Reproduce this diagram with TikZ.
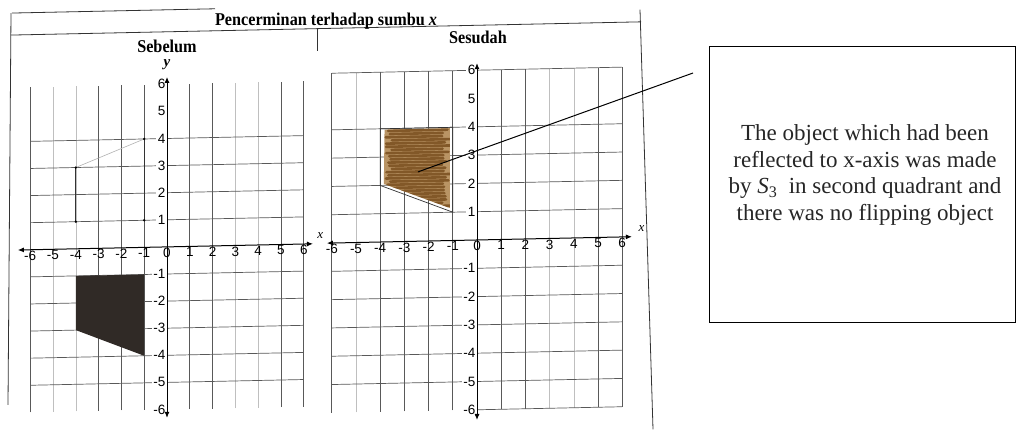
\documentclass[tikz,border=0pt]{standalone}
\usepackage{fontspec}
\usepackage{graphicx}
\setmainfont{Liberation Serif}
\newfontfamily\sansf{Liberation Sans}
\usetikzlibrary{arrows.meta}
\definecolor{shapedark}{RGB}{48,42,38}
\definecolor{scribble}{RGB}{130,88,40}
\definecolor{scribblelight}{RGB}{185,148,100}
\tikzset{
  gridline/.style={draw=black!65, line width=0.7pt},
  faintline/.style={draw=black!25, line width=0.5pt},
  axisline/.style={draw=black, line width=1pt, {Latex[length=6pt,width=5pt]}-{Latex[length=6pt,width=5pt]}},
  xlab/.style={font=\sansf\fontsize{13.5}{14}\selectfont, anchor=north, inner sep=1pt},
  ylab/.style={font=\sansf\fontsize{13.5}{14}\selectfont, anchor=east, fill=white, inner sep=1.5pt},
  header/.style={font=\bfseries\fontsize{18}{20}\selectfont, inner sep=0pt},
  frameline/.style={draw=black!80, line width=0.8pt},
  traceline/.style={draw=black!80, line width=0.7pt},
  connector/.style={draw=black, line width=1pt},
}
\begin{document}
\begin{tikzpicture}[x=1pt,y=-1pt]
\useasboundingbox (0,0) rectangle (1017,430);
\fill[white] (0,0) rectangle (1017,430);
\begin{scope}[yslant=0.021]
  % worksheet frame
  \draw[frameline] (12,13.3) -- (215,13.3);
  \draw[frameline] (11,13.3) -- (8,405);
  \draw[frameline] (11,35.3) -- (641,35.3);
  \draw[frameline] (640,23) -- (653,443);
  \draw[frameline] (317,35.3) -- (317,58);
  \node[header, anchor=base] (title) at (326,32) {\scalebox{0.9}[1]{Pencerminan terhadap sumbu \textit{x}}};
  \node[header] (before) at (167,50) {\scalebox{0.9}[1]{Sebelum}};
  \node[header] (after) at (478,47) {\scalebox{0.9}[1]{Sesudah}};

  % ---------- left grid (Sebelum) ----------
  \begin{scope}[shift={(167,250.4)}, x=22.8pt, y=27.1pt]
    \foreach \i in {-6,-3,-2,-1,1,2,5,6} \draw[gridline] (\i,-6) -- (\i,6);
    \foreach \i in {-5,-4,3,4} \draw[faintline] (\i,-6) -- (\i,6);
    \foreach \j in {-5,-4,-3,-2,-1,1,2,3,4} \draw[gridline] (-6,\j) -- (6,\j);
    % shaded object
    \fill[shapedark] (-4,-1) -- (-1,-1) -- (-1,-4) -- (-4,-3) -- cycle;
    % trace in quadrant II
    \draw[draw=black!30, line width=0.6pt] (-4,3) -- (-1,4);
    \draw[traceline] (-4,3) -- (-4,1);
    \draw[traceline] (-1,4) -- (-1,1);
    \foreach \p/\q in {-4/3,-1/4,-4/1,-1/1} \fill[black] (\p,\q) circle (1.3pt);
    % tick labels
    \foreach \i in {-6,...,6} \node[xlab] (lbx\i) at (\i,0) {\i};
    \foreach \j in {-6,-5,-4,-3,-2,-1,1,2,3,4,5,6} \node[ylab] (lby\j) at (0,\j) {\j};
    % axes
    \draw[axisline] (-6.54,0) -- (6.4,0);
    \draw[axisline] (0,-6.31) -- (0,6.27);
    \node[font=\bfseries\itshape\fontsize{15}{15}\selectfont, inner sep=0pt] (ly) at (0,6.72) {y};
    \node[font=\itshape\fontsize{13}{13}\selectfont, inner sep=0pt] (lx) at (6.72,0.3) {x};
  \end{scope}

  % ---------- right grid (Sesudah) ----------
  \begin{scope}[shift={(477,250)}, x=24.2pt, y=28.3pt]
    \foreach \i in {-6,-4,-3,-2,-1,1,2,5,6} \draw[gridline] (\i,-6) -- (\i,6);
    \foreach \i in {-5,3,4} \draw[faintline] (\i,-6) -- (\i,6);
    \foreach \j in {-5,-4,-3,-2,-1,1,2,3,4,6} \draw[gridline] (-6,\j) -- (6,\j);
    \draw[gridline] (0,-6) -- (6,-6);
    % scribbled object
    \begin{scope}
      \clip (-3.82,3.97) -- (-1.12,3.97) -- (-1.12,1.15) -- (-3.85,2.05) -- cycle;
      \fill[scribblelight] (-3.9,4) rectangle (-1,1);
      \pgfmathsetseed{12}
      \foreach \k in {0,...,24}{
        \pgfmathsetmacro\xa{-3.78+0.3*rnd}
        \pgfmathsetmacro\xb{-1.05-0.4*rnd}
        \pgfmathsetmacro\yy{3.92-0.112*\k}
        \draw[scribble, line width=2.6pt, line cap=round] (\xa,\yy) -- (\xb,\yy);
      }
    \end{scope}
    \draw[traceline] (-4,4) -- (-1,4) -- (-1,1) -- (-4,2) -- cycle;
    \coordinate (objpt) at (-2.44,2.45);
    % tick labels
    \foreach \i in {-6,...,6} \node[xlab] (rbx\i) at (\i,0) {\i};
    \foreach \j in {-6,-5,-4,-3,-2,-1,1,2,3,4,5,6} \node[ylab] (rby\j) at (0,\j) {\j};
    % axes
    \draw[axisline] (-6.2,0) -- (6.4,0);
    \draw[axisline] (0,-6.36) -- (0,6.25);
    \node[font=\itshape\fontsize{13}{13}\selectfont, inner sep=0pt] (rx) at (6.8,0.3) {x};
  \end{scope}
\end{scope}

% callout
\coordinate (lend) at (693,73);
\draw[connector] (objpt) -- (lend);
\node[draw, line width=0.8pt, minimum width=306pt, minimum height=276pt, anchor=north west, inner sep=0pt] (box) at (709,46) {};
\node[align=center, font=\fontsize{23}{26.7}\selectfont, text=black!85] (txt) at (865,175)
  {The object which had been\\reflected to x-axis was made\\by {\itshape S}\textsubscript{3}\ \ in second quadrant and\\there was no flipping object};
\end{tikzpicture}
\end{document}
